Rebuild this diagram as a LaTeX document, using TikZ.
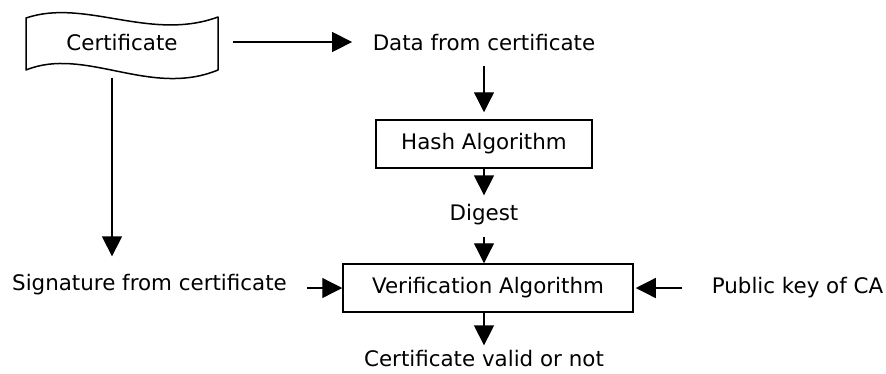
\documentclass[tikz,border=0pt]{standalone}
\usepackage{fontspec}
\setmainfont{DejaVu Sans}
\usetikzlibrary{arrows.meta}
\begin{document}
\begin{tikzpicture}[x=1pt,y=-1pt,
  line width=1.3pt,
  lbl/.style={inner sep=0pt, text height=15pt, text depth=4pt, anchor=base,
              font=\fontsize{21.4pt}{25pt}\selectfont},
  algbox/.style={draw, rectangle, inner sep=0pt, line width=1.5pt,
                 font=\fontsize{21.4pt}{25pt}\selectfont},
  arr/.style={-{Triangle[length=20pt,width=20pt]}}]
\useasboundingbox (0,0) rectangle (886,373);

% certificate outline (wavy document shape)
\draw[line width=1.5pt, line join=round]
  (26,18) .. controls (85,-2) and (150,42) .. (218,17) -- (218,70)
  .. controls (150,98) and (85,46) .. (26,70) -- cycle;

% text labels
\node[lbl, minimum width=192pt] (cert) at (122,50) {Certificate};
\node[lbl] (data)   at (484,50)  {Data from certificate};
\node[lbl] (digest) at (484,220) {Digest};
\node[lbl] (sig)    at (149.5,290) {Signature from certificate};
\node[lbl] (pub)    at (797.5,293.5) {Public key of CA};
\node[lbl] (valid)  at (484,366) {Certificate valid or not};

% processing boxes
\node[algbox, minimum width=216pt, minimum height=48pt] (hash)  at (484,144) {Hash Algorithm};
\node[algbox, minimum width=290pt, minimum height=48pt] (verif) at (488,288) {Verification Algorithm};

% connectors
\draw[arr] ([xshift=14pt,yshift=2.5pt]cert.east) -- ([xshift=-20pt,yshift=2.5pt]data.west);
\draw[arr] ([yshift=-11pt]data.south) -- ([yshift=7pt]hash.north);
\draw[arr] (hash.south) -- ([yshift=9pt]digest.north);
\draw[arr] ([yshift=-12pt]digest.south) -- ([xshift=-4pt]verif.north);
\draw[arr] ([xshift=-4pt]verif.south) -- ([yshift=5pt]valid.north);
\draw[arr] ([xshift=-10pt,yshift=-23pt]cert.south) -- ([xshift=-37.5pt,yshift=18pt]sig.north);
\draw[arr] ([xshift=20pt,yshift=-3.5pt]sig.east) -- (verif.west);
\draw[arr] ([xshift=-29pt]pub.west) -- ([xshift=2pt]verif.east);
\end{tikzpicture}
\end{document}
